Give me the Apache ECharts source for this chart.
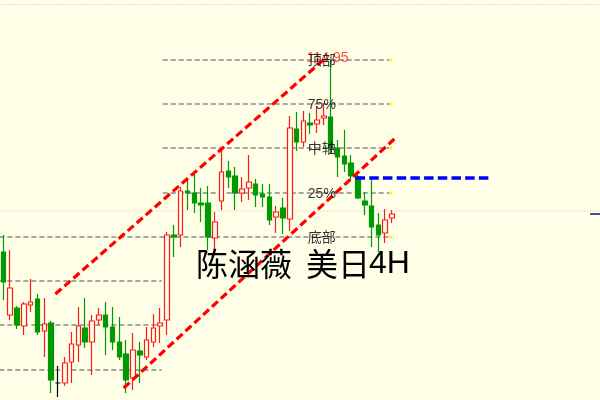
<!DOCTYPE html>
<html><head><meta charset="utf-8">
<script src="https://cdn.jsdelivr.net/npm/echarts@6/dist/echarts.min.js"></script>
<style>html,body{margin:0;padding:0;background:#ffffe8}#c{width:600px;height:400px}</style>
</head><body><div id="c"></div>
<script>
// 4H candles, each [open, close, low, high]
const candles = [
[113.03,112.73,112.55,113.20],[112.40,112.67,112.35,113.05],[112.47,112.30,112.26,112.49],[112.29,112.51,112.20,112.53],
[112.50,112.53,112.43,112.76],[112.56,112.23,112.20,112.61],[112.24,112.31,111.98,112.57],[112.32,111.75,111.62,112.34],
[111.72,111.72,111.58,111.89],[111.72,111.92,111.69,111.98],[111.93,112.11,111.72,112.23],[112.10,112.29,111.93,112.48],
[112.27,112.13,112.07,112.57],[112.13,112.34,111.80,112.40],[112.35,112.40,112.30,112.47],[112.40,112.28,112.00,112.53],
[112.28,112.13,112.05,112.48],[112.13,111.98,111.95,112.38],[112.01,111.75,111.62,112.15],[111.77,112.05,111.65,112.22],
[112.04,112.00,111.72,112.13],[111.98,112.15,111.95,112.28],[112.13,112.27,112.08,112.41],[112.29,112.32,112.12,112.47],
[112.35,113.20,112.20,113.23],[113.20,113.18,112.98,113.30],[113.20,113.64,113.08,113.68],[113.64,113.62,113.45,113.77],
[113.62,113.52,113.42,113.82],[113.52,113.50,113.33,113.67],[113.52,113.18,113.05,113.69],[113.17,113.33,113.00,113.43],
[113.54,113.83,113.45,114.05],[113.84,113.78,113.67,113.94],[113.79,113.62,113.45,113.88],[113.62,113.66,113.53,113.78],
[113.67,113.73,113.55,114.00],[113.71,113.60,113.48,113.76],[113.61,113.58,113.48,113.71],[113.58,113.35,113.30,113.71],
[113.38,113.43,113.22,113.49],[113.47,113.37,113.21,113.57],[113.36,114.27,113.24,114.39],[114.26,114.13,114.04,114.43],
[114.13,114.34,114.08,114.44],[114.32,114.30,114.21,114.42],[114.31,114.35,114.22,114.49],[114.37,114.39,114.30,114.52],
[114.38,114.07,114.02,114.95],[114.07,113.98,113.78,114.15],[113.99,113.91,113.83,114.25],[113.92,113.79,113.75,114.00],
[113.78,113.57,113.56,113.80],[113.54,113.50,113.40,113.63],[113.49,113.28,113.08,113.76],[113.30,113.20,113.03,113.42],
[113.22,113.35,113.12,113.46],[113.37,113.41,113.32,113.45]
];
const dojiIndex = 8;
const slotCount = 88;              // bar slots across the window (58 bars + empty right side)
const highBar = 48;
const highText = '114.95';
const highPrice = 114.95;
const fibLevels = [114.95, 114.51, 114.07, 113.62, 113.18];
const fibNames = ['顶部', '75%', '中轴', '25%', '底部'];
const fibStart = 23.37, fibEnd = 56.6, fibLabelAt = 46.7, fibDotAt = 56.8;
const leftLevels = [112.74, 112.30, 111.85];
const leftEnd = 23.2;
const channelUpper = [[7.62, 112.61], [47.27, 114.97]];
const channelLower = [[17.64, 111.67], [57.33, 114.16]];
const blueLevel = [[51.65, 113.77], [71.33, 113.77]];
const bidLevel = 113.44;
const topDotted = 115.505;
const bidMark = [[86.05, 113.41], [87.6, 113.41]];

const BG = '#ffffe8', UP = '#ff1a1a', DOWN = '#009a00';
const cats = Array.from({length: slotCount}, (_, i) => 'b' + i);

function mkLine(data, color, width, type, z) {
  return {type: 'line', xAxisIndex: 1, yAxisIndex: 0, data: data, symbol: 'none', silent: true,
    z: z, clip: false, lineStyle: {color: color, width: width, type: type, cap: 'butt'}};
}

const series = [];
series.push(mkLine([[-0.6, topDotted], [87.6, topDotted]], '#c4c4c4', 1, [1, 2], 1));
series.push(mkLine([[-0.6, bidLevel], [87.6, bidLevel]], '#c4c4c4', 1, [1, 2], 1));
fibLevels.forEach((p, i) => {
  const s = (i === fibLevels.length - 1) ? -0.6 : fibStart;
  series.push(mkLine([[s, p], [fibEnd, p]], '#8a8a8a', 1.5, [5, 3], 1));
});
leftLevels.forEach(p => series.push(mkLine([[-0.6, p], [leftEnd, p]], '#8a8a8a', 1.5, [5, 3], 1)));

series.push({
  type: 'candlestick', xAxisIndex: 0, yAxisIndex: 0, barWidth: 5, z: 2,
  data: candles.map((c, i) => i === dojiIndex
    ? {value: c, itemStyle: {color: '#000', color0: '#000', borderColor: '#000', borderColor0: '#000', borderColorDoji: '#000'}}
    : c),
  itemStyle: {color: BG, color0: DOWN, borderColor: UP, borderColor0: DOWN, borderWidth: 1.2}
});

series.push(mkLine(channelUpper, '#ff0000', 3.2, [8, 4], 5));
series.push(mkLine(channelLower, '#ff0000', 3.2, [8, 4], 5));
series.push(mkLine(blueLevel, '#0000ff', 3.4, [9.5, 4.2], 5));
series.push(mkLine(bidMark, '#4a4aa8', 2, 'solid', 5));

series.push({
  type: 'scatter', xAxisIndex: 1, yAxisIndex: 0, silent: true, z: 6,
  symbol: 'rect', symbolSize: 3, itemStyle: {color: '#ffee00'},
  data: fibLevels.map(p => [fibDotAt, p])
});
series.push({
  type: 'scatter', xAxisIndex: 1, yAxisIndex: 0, silent: true, z: 7,
  symbolSize: 1, itemStyle: {color: 'rgba(0,0,0,0)'},
  data: [[highBar, highPrice, highText]],
  label: {show: true, position: 'inside', formatter: p => p.value[2], offset: [-3, -2],
    color: '#ff2020', fontSize: 14, fontFamily: '"Liberation Sans", Arial, sans-serif'}
});
series.push({
  type: 'scatter', xAxisIndex: 1, yAxisIndex: 0, silent: true, z: 8,
  symbolSize: 1, itemStyle: {color: 'rgba(0,0,0,0)'},
  data: fibLevels.map((p, i) => [fibLabelAt, p, fibNames[i]]),
  label: {show: true, position: 'inside', formatter: p => p.value[2], offset: [0, 1.5],
    color: '#000', fontSize: 14, fontFamily: '"Liberation Sans", "Noto Sans CJK SC", sans-serif'}
});

const chart = echarts.init(document.getElementById('c'), null, {renderer: 'canvas'});
chart.setOption({
  backgroundColor: BG,
  animation: false,
  grid: {left: -2.73, right: -0.95, top: 0, bottom: 0, containLabel: false},
  xAxis: [
    {type: 'category', data: cats, show: false, boundaryGap: true},
    {type: 'value', min: -0.5, max: slotCount - 0.5, show: false}
  ],
  yAxis: [{type: 'value', min: 111.55, max: 115.55, show: false, splitLine: {show: false}}],
  graphic: [
    {type: 'text', left: 196, top: 248, z: 100, style: {text: '陈涵薇', fill: '#000', font: '32px "Noto Sans CJK SC"'}},
    {type: 'text', left: 306, top: 248, z: 100, style: {text: '美日', fill: '#000', font: '32px "Noto Sans CJK SC"'}},
    {type: 'text', left: 369, top: 248, z: 100, style: {text: '4H', fill: '#000', font: '32px "Liberation Sans"'}}
  ],
  series: series
});
</script></body></html>
